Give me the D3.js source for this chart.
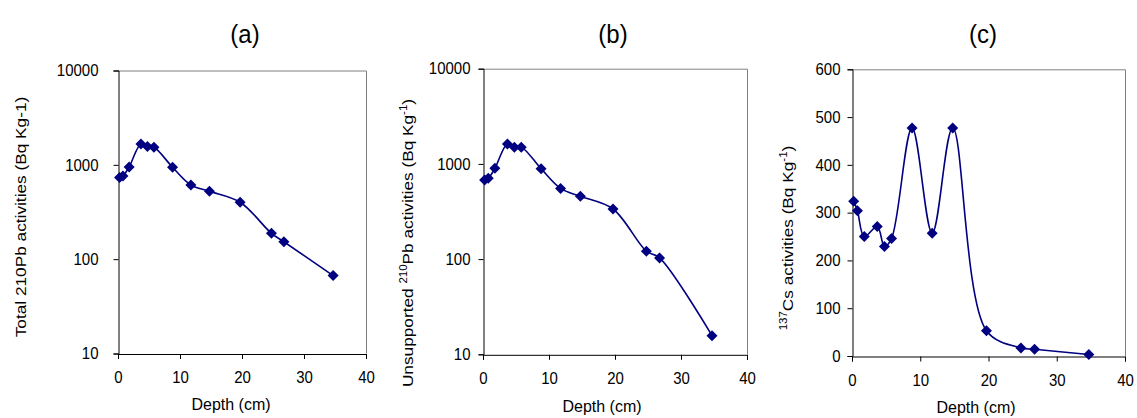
<!DOCTYPE html>
<html>
<head>
<meta charset="utf-8">
<script src="https://cdn.jsdelivr.net/npm/d3@7"></script>
<style>
  body { margin: 0; background: #fff; }
  text { font-family: "Liberation Sans", Arial, sans-serif; fill: #000; }
</style>
</head>
<body>
<script>
var depths = [0.25, 0.8, 1.8, 3.7, 4.75, 5.8, 8.8, 11.75, 14.75, 19.7, 24.75, 26.75, 34.7];
var totalPb = [732, 762, 950, 1667, 1560, 1535, 943, 612, 524, 401, 188, 153, 67];
var unsupportedPb = [678, 705, 898, 1618, 1492, 1500, 891, 553, 456, 336, 121, 103, 15.7];
var cs137 = [324, 304, 250, 271, 229, 246, 477, 257, 477, 53, 17, 14, 3];

var depthTicks = [0, 10, 20, 30, 40];
var logTicks = [10, 100, 1000, 10000];
var csTicks = [0, 100, 200, 300, 400, 500, 600];

var navy = "#000080";

var panels = [
  {title: "(a)", values: totalPb, log: true, yDomain: [10, 10000], yTicks: logTicks,
   l: 118, r: 366, t: 70.5, b: 353.5, titleX: 245, xLabX: 231, xLabY: 410,
   yLabX: 26, yLabY: 217, yPad: 15,
   yLabel: [{t: "Total 210Pb activities (Bq Kg-1)"}]},
  {title: "(b)", values: unsupportedPb, log: true, yDomain: [10, 10000], yTicks: logTicks,
   l: 483, r: 747, t: 68.7, b: 354.3, titleX: 613, xLabX: 602, xLabY: 412,
   yLabX: 413, yLabY: 243, yPad: 8,
   yLabel: [{t: "Unsupported "}, {t: "210", sup: true}, {t: "Pb activities (Bq Kg"}, {t: "-1", sup: true}, {t: ")"}]},
  {title: "(c)", values: cs137, log: false, yDomain: [0, 600], yTicks: csTicks,
   l: 852, r: 1125, t: 69.3, b: 356, titleX: 983, xLabX: 976, xLabY: 413,
   yLabX: 793, yLabY: 238, yPad: 7,
   yLabel: [{t: "137", sup: true}, {t: "Cs activities (Bq Kg"}, {t: "-1", sup: true}, {t: ")"}]}
];

var svg = d3.select("body").append("svg")
    .attr("width", 1137)
    .attr("height", 418);

panels.forEach(function(p) {
  var x = d3.scaleLinear().domain([0, 40]).range([p.l, p.r]),
      y = (p.log ? d3.scaleLog() : d3.scaleLinear()).domain(p.yDomain).range([p.b, p.t]);

  var g = svg.append("g");

  // grey frame on top and right
  g.append("path")
    .attr("d", "M" + p.l + "," + (p.t + 0.5) + "H" + (p.r + 0.5) + "V" + p.b)
    .attr("fill", "none")
    .attr("stroke", "#808080");

  var xAxis = g.append("g")
    .attr("transform", "translate(0," + (p.b + 0.5) + ")")
    .call(d3.axisBottom(x).tickValues(depthTicks).tickSizeOuter(0).tickSize(5).tickPadding(11));

  var yAxis = g.append("g")
    .attr("transform", "translate(" + (p.l + 0.5) + ",0)")
    .call(d3.axisLeft(y).tickValues(p.yTicks).tickFormat(d3.format("d")).tickSizeOuter(0).tickSize(5).tickPadding(p.yPad));

  [xAxis, yAxis].forEach(function(a) {
    a.selectAll("path, line").attr("stroke", "#000");
    a.selectAll("text")
      .attr("fill", "#000")
      .style("font-size", "15px")
      .attr("transform", "scale(1,1.1)");
  });

  var line = d3.line()
    .x(function(d, i) { return x(depths[i]); })
    .y(function(d) { return y(d); })
    .curve(d3.curveCatmullRom.alpha(0.5));

  g.append("path")
    .datum(p.values)
    .attr("d", line)
    .attr("fill", "none")
    .attr("stroke", navy)
    .attr("stroke-width", 1.6);

  var r = 5.5;
  g.selectAll("path.pt")
    .data(p.values)
    .enter().append("path")
      .attr("class", "pt")
      .attr("d", "M0," + (-r) + "L" + r + ",0L0," + r + "L" + (-r) + ",0Z")
      .attr("transform", function(d, i) {
        return "translate(" + x(depths[i]) + "," + y(d) + ")";
      })
      .attr("fill", navy);

  g.append("text")
    .attr("transform", "translate(" + p.titleX + ",43) scale(1,1.1)")
    .attr("text-anchor", "middle")
    .style("font-size", "24px")
    .text(p.title);

  g.append("text")
    .attr("x", p.xLabX)
    .attr("y", p.xLabY)
    .attr("text-anchor", "middle")
    .style("font-size", "16px")
    .text("Depth (cm)");

  var lab = g.append("text")
    .attr("transform", "translate(" + p.yLabX + "," + p.yLabY + ") rotate(-90) scale(1.15,1)")
    .attr("text-anchor", "middle")
    .style("font-size", "15px");

  var shift = 0;
  p.yLabel.forEach(function(s) {
    var dy = s.sup ? -6 - shift : -shift;
    shift = s.sup ? -6 : 0;
    lab.append("tspan")
      .attr("dy", dy)
      .style("font-size", s.sup ? "10px" : "15px")
      .text(s.t);
  });
});
</script>
</body>
</html>
